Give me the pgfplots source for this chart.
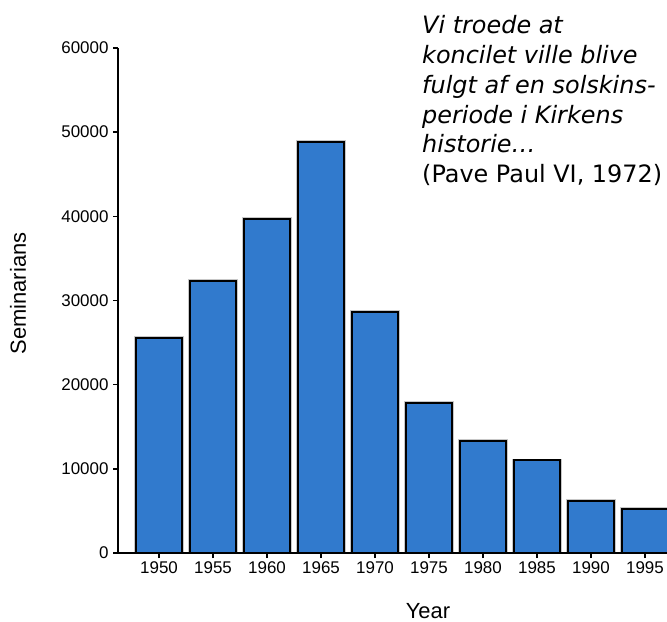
\documentclass[border=0pt]{standalone}
\usepackage{fontspec}
\setmainfont{Liberation Sans}
\newfontfamily\quotefont{DejaVu Sans}
\usepackage{pgfplots}
\pgfplotsset{compat=1.18}
\definecolor{barblue}{RGB}{49,122,205}
\pgfplotstableread{
year value
1950 25500
1955 32300
1960 39700
1965 48800
1970 28600
1975 17800
1980 13300
1985 11000
1990 6200
1995 5200
}\seminarians
\begin{document}
\begin{tikzpicture}
\useasboundingbox (-118bp,-69bp) rectangle (549bp,553bp);
\begin{axis}[
  at={(0,0)}, anchor=south west,
  scale only axis, width=549bp, height=505bp,
  xmin=1946.2, xmax=1997.04, ymin=0, ymax=60000,
  axis lines*=left,
  axis line style={black, line width=1.6bp},
  axis on top=true,
  ybar, bar shift=0pt, bar width=4.33,
  xtick={1950,1955,...,1995},
  ytick={0,10000,...,60000},
  scaled y ticks=false,
  tick align=outside,
  major tick length=5bp,
  tick style={black, line width=1.6bp},
  /pgf/number format/assume math mode=true,
  /pgf/number format/1000 sep={},
  tick label style={font=\fontsize{17}{19}\selectfont},
  yticklabel style={xshift=-1bp},
  xlabel={Year},
  ylabel={Seminarians},
  label style={font=\fontsize{22}{26}\selectfont},
  xlabel style={at={(axis description cs:0,0)}, anchor=center, xshift=310bp, yshift=-58bp},
  ylabel style={at={(axis description cs:0,0.5)}, anchor=center, yshift=100bp, xshift=7bp},
]
\addplot[fill=none, draw=black!22, line width=3.8bp] table[x=year, y=value] {\seminarians};
\addplot[fill=barblue, draw=black, line width=2bp] table[x=year, y=value] {\seminarians};
\end{axis}
\node[anchor=north west, inner sep=0pt, align=left,
      font=\quotefont\fontsize{24}{30}\selectfont] at (304bp,538bp)
  {\itshape Vi troede at\\
   \itshape koncilet ville blive\\
   \itshape fulgt af en solskins-\\
   \itshape periode i Kirkens\\
   \itshape historie…\\
   \upshape (Pave Paul VI, 1972)};
\end{tikzpicture}
\end{document}
